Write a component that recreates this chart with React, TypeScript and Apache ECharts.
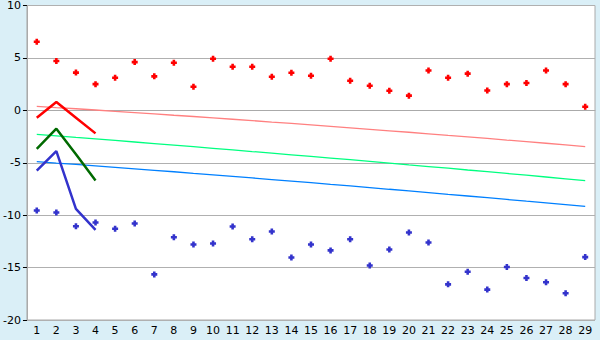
import React, { useEffect, useRef } from "react";
import * as echarts from "echarts";

const categories = Array.from({ length: 29 }, (_, i) => String(i + 1));

const upperPoints = [6.55, 4.7, 3.6, 2.5, 3.1, 4.6, 3.24, 4.54, 2.25, 4.92, 4.16, 4.16, 3.2, 3.59, 3.3, 4.92, 2.83, 2.35, 1.87, 1.4, 3.8, 3.1, 3.5, 1.9, 2.5, 2.6, 3.8, 2.5, 0.35];
const lowerPoints = [-9.55, -9.75, -11.05, -10.7, -11.3, -10.8, -15.65, -12.1, -12.8, -12.7, -11.08, -12.3, -11.55, -14.03, -12.8, -13.36, -12.3, -14.8, -13.27, -11.65, -12.6, -16.6, -15.4, -17.1, -14.95, -16.0, -16.4, -17.45, -14.0];

const upperTrend = [0.38, 0.26, 0.15, 0.03, -0.1, -0.22, -0.34, -0.47, -0.59, -0.72, -0.85, -0.98, -1.12, -1.25, -1.39, -1.53, -1.67, -1.81, -1.95, -2.09, -2.24, -2.39, -2.53, -2.68, -2.84, -2.99, -3.14, -3.3, -3.46];
const midTrend = [-2.29, -2.43, -2.58, -2.72, -2.87, -3.02, -3.17, -3.32, -3.47, -3.62, -3.77, -3.93, -4.08, -4.24, -4.4, -4.55, -4.71, -4.87, -5.03, -5.2, -5.36, -5.52, -5.69, -5.85, -6.02, -6.19, -6.36, -6.53, -6.7];
const lowerTrend = [-4.89, -5.03, -5.16, -5.3, -5.44, -5.58, -5.72, -5.86, -6.01, -6.15, -6.3, -6.45, -6.6, -6.75, -6.9, -7.06, -7.21, -7.37, -7.53, -7.68, -7.84, -8.01, -8.17, -8.33, -8.5, -8.67, -8.83, -9.0, -9.17];

const redRecent = [-0.7, 0.79, -0.7, -2.2];
const greenRecent = [-3.68, -1.75, -4.2, -6.7];
const blueRecent = [-5.75, -3.9, -9.4, -11.4];

const plusSymbol = "path://M2,0H5V2H7V5H5V7H2V5H0V2H2Z";

export default function App() {
  const ref = useRef<HTMLDivElement>(null);
  useEffect(() => {
    if (!ref.current) return;
    const chart = echarts.init(ref.current, null, { renderer: "svg" });
    const font = { fontFamily: "DejaVu Sans", fontSize: 11, color: "#000" };
    chart.setOption({
      animation: false,
      backgroundColor: "#daeff7",
      grid: {
        left: 26,
        right: 5,
        top: 5,
        bottom: 20,
        show: true,
        backgroundColor: "#ffffff",
        borderColor: "#aaaaaa",
        borderWidth: 1,
      },
      xAxis: {
        type: "category",
        data: categories,
        boundaryGap: true,
        axisLine: { lineStyle: { color: "#aaaaaa", width: 1 } },
        axisTick: { alignWithLabel: true, length: 5, lineStyle: { color: "#000" } },
        axisLabel: { ...font, margin: 5, interval: 0 },
        splitLine: { show: false },
      },
      yAxis: {
        type: "value",
        min: -20,
        max: 10,
        interval: 5,
        axisLine: { show: true, lineStyle: { color: "#aaaaaa", width: 1 } },
        axisTick: { show: true, length: 4, lineStyle: { color: "#000" } },
        axisLabel: { ...font, margin: 6 },
        splitLine: { show: true, lineStyle: { color: "#b0b0b0", width: 1 } },
      },
      series: [
        { type: "line", data: upperTrend, symbol: "none", lineStyle: { color: "#ff8080", width: 1.3 } },
        { type: "line", data: midTrend, symbol: "none", lineStyle: { color: "#00ff80", width: 1.3 } },
        { type: "line", data: lowerTrend, symbol: "none", lineStyle: { color: "#0080ff", width: 1.3 } },
        { type: "line", data: redRecent, symbol: "none", lineStyle: { color: "#ff0000", width: 2.5 } },
        { type: "line", data: greenRecent, symbol: "none", lineStyle: { color: "#006a00", width: 2.5 } },
        { type: "line", data: blueRecent, symbol: "none", lineStyle: { color: "#3333cc", width: 2.5 } },
        { type: "scatter", data: upperPoints, symbol: plusSymbol, symbolSize: 6, itemStyle: { color: "#ff0000", opacity: 1 } },
        { type: "scatter", data: lowerPoints, symbol: plusSymbol, symbolSize: 6, itemStyle: { color: "#3333cc", opacity: 1 } },
      ],
    });
    return () => chart.dispose();
  }, []);
  return <div ref={ref} style={{ position: "fixed", left: 0, top: 0, width: 600, height: 340 }} />;
}
